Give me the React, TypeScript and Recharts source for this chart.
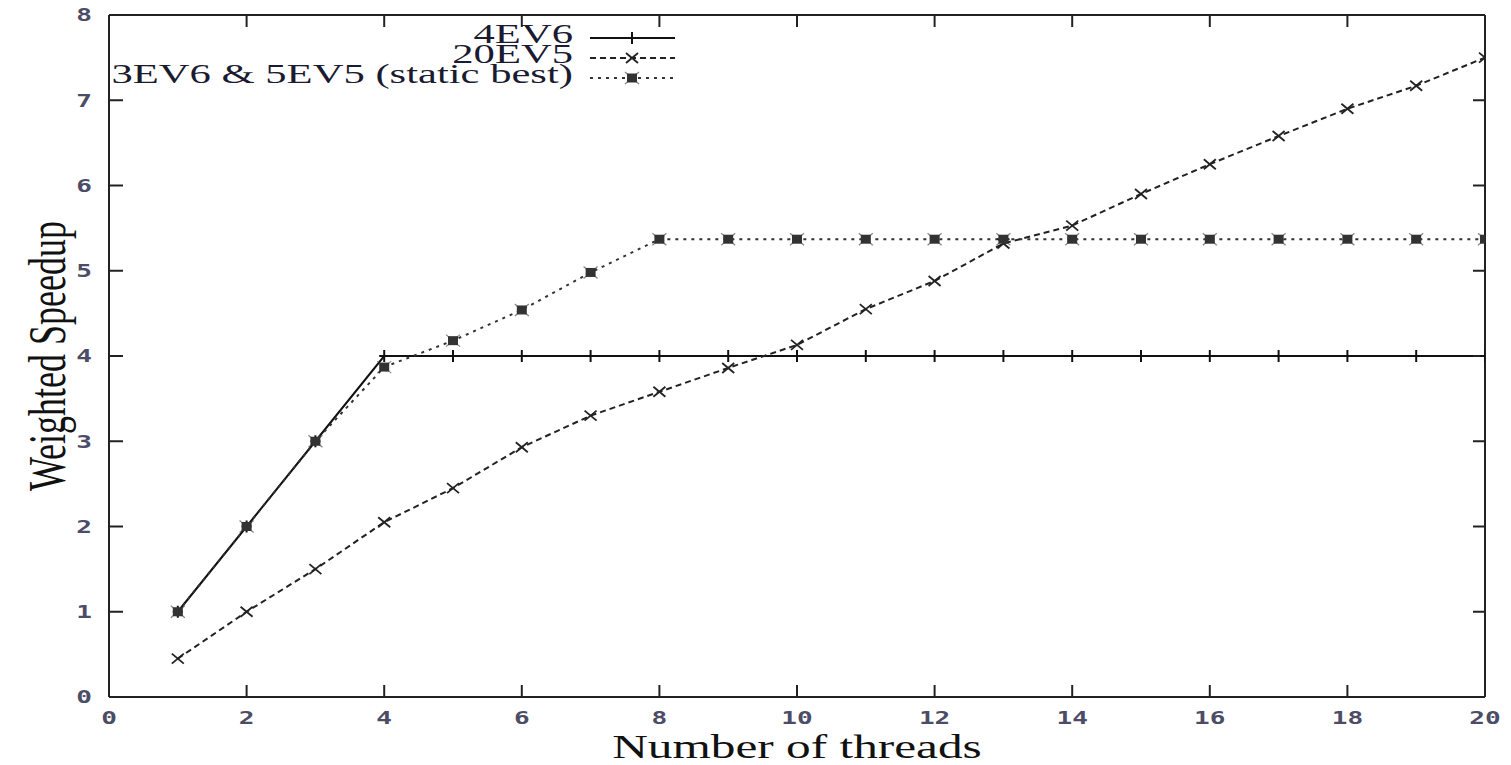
import { LineChart, Line, XAxis, YAxis, Label } from 'recharts';

const threads = [1, 2, 3, 4, 5, 6, 7, 8, 9, 10, 11, 12, 13, 14, 15, 16, 17, 18, 19, 20];
const ev6Speedup = [1, 2, 3, 4, 4, 4, 4, 4, 4, 4, 4, 4, 4, 4, 4, 4, 4, 4, 4, 4];
const ev5Speedup = [0.45, 1.0, 1.5, 2.05, 2.45, 2.93, 3.3, 3.58, 3.86, 4.13, 4.55, 4.88, 5.32, 5.53, 5.9, 6.25, 6.58, 6.9, 7.17, 7.5];
const staticBest = [1, 2, 3, 3.87, 4.18, 4.54, 4.98, 5.37, 5.37, 5.37, 5.37, 5.37, 5.37, 5.37, 5.37, 5.37, 5.37, 5.37, 5.37, 5.37];
const xTicks = [0, 2, 4, 6, 8, 10, 12, 14, 16, 18, 20];
const yTicks = [0, 1, 2, 3, 4, 5, 6, 7, 8];

const data = threads.map((t, i) => ({
  threads: t,
  ev6: ev6Speedup[i],
  ev5: ev5Speedup[i],
  mixed: staticBest[i],
}));

// the original image is stretched sideways, so text gets scaled in x
const SX = 1.45;
const SERIF = '"Liberation Serif", "Times New Roman", serif';
const MONO = '"DejaVu Sans Mono", monospace';
const TICK_COLOR = '#4c4c66';
const FRAME = { stroke: '#222', strokeWidth: 2 };

function PlusMark({ cx, cy, color }: { cx: number; cy: number; color: string }) {
  return (
    <g stroke={color} strokeWidth={2}>
      <line x1={cx - 5} x2={cx + 5} y1={cy} y2={cy} />
      <line x1={cx} x2={cx} y1={cy - 6} y2={cy + 6} />
    </g>
  );
}

function CrossMark({ cx, cy, color }: { cx: number; cy: number; color: string }) {
  return (
    <g stroke={color} strokeWidth={1.8}>
      <line x1={cx - 6} x2={cx + 6} y1={cy - 5} y2={cy + 5} />
      <line x1={cx - 6} x2={cx + 6} y1={cy + 5} y2={cy - 5} />
    </g>
  );
}

function BoxMark({ cx, cy, color }: { cx: number; cy: number; color: string }) {
  return (
    <g>
      <rect x={cx - 5} y={cy - 4.5} width={10} height={9} fill={color} />
      <g stroke={color} strokeWidth={1.2} opacity={0.6}>
        <line x1={cx - 7} x2={cx + 7} y1={cy - 6} y2={cy + 6} />
        <line x1={cx - 7} x2={cx + 7} y1={cy + 6} y2={cy - 6} />
      </g>
    </g>
  );
}

const series = [
  { key: 'ev6', name: '4EV6', color: '#111', dash: undefined, Mark: PlusMark },
  { key: 'ev5', name: '20EV5', color: '#222', dash: '6 4', Mark: CrossMark },
  { key: 'mixed', name: '3EV6 & 5EV5 (static best)', color: '#333', dash: '3 5', Mark: BoxMark },
];

const NoLabel = () => <g />;

function XTick(props: any) {
  const { x, y, payload } = props;
  return (
    <g transform={`translate(${x},${y}) scale(${SX},1)`}>
      <text x={0} y={0} dy="0.35em" textAnchor="middle" fontFamily={MONO} fontWeight="bold" fontSize={18} fill={TICK_COLOR}>
        {payload.value}
      </text>
    </g>
  );
}

function YTick(props: any) {
  const { x, y, payload } = props;
  return (
    <g transform={`translate(${x},${y}) scale(${SX},1)`}>
      <text x={0} y={0} dy="0.35em" textAnchor="end" fontFamily={MONO} fontWeight="bold" fontSize={18} fill={TICK_COLOR}>
        {payload.value}
      </text>
    </g>
  );
}

function XTitle(props: any) {
  const vb = props.viewBox;
  return (
    <g transform={`translate(${vb.x + vb.width / 2},${vb.y + 61}) scale(${SX},1)`}>
      <text x={0} y={0} textAnchor="middle" fontFamily={SERIF} fontSize={34} fill="#111">
        Number of threads
      </text>
    </g>
  );
}

function YTitle(props: any) {
  const vb = props.viewBox;
  return (
    <g transform={`translate(${vb.x + 47},${vb.y + vb.height / 2}) scale(${SX},1) rotate(-90)`}>
      <text x={0} y={0} dy="0.35em" textAnchor="middle" fontFamily={SERIF} fontSize={36} fill="#111">
        Weighted Speedup
      </text>
    </g>
  );
}

function KeyBox() {
  return (
    <svg width={1511} height={110} style={{ position: 'absolute', left: 0, top: 0, pointerEvents: 'none' }}>
      {series.map((s, i) => {
        const y = 38 + i * 20;
        return (
          <g key={s.key}>
            <g transform={`translate(573,${y + 5}) scale(1.55,1)`}>
              <text x={0} y={0} textAnchor="end" fontFamily={SERIF} fontSize={27.5} fill="#1a1a30">
                {s.name}
              </text>
            </g>
            <line x1={590} x2={675} y1={y} y2={y} stroke={s.color} strokeWidth={2} strokeDasharray={s.dash} />
            <s.Mark cx={632} cy={y} color={s.color} />
          </g>
        );
      })}
    </svg>
  );
}

export default function App() {
  return (
    <div style={{ position: 'absolute', left: 0, top: 0, width: 1511, height: 765, background: '#fff' }}>
      <LineChart width={1511} height={765} data={data} margin={{ top: 15, right: 26, bottom: 0, left: 0 }}>
        <XAxis
          xAxisId="x"
          dataKey="threads"
          type="number"
          domain={[0, 20]}
          allowDataOverflow
          ticks={xTicks}
          interval={0}
          height={68}
          tickSize={0}
          tickLine={false}
          tickMargin={21}
          axisLine={FRAME}
          tick={XTick}
        >
          <Label content={XTitle} />
        </XAxis>
        <XAxis xAxisId="xb" dataKey="threads" type="number" domain={[0, 20]} allowDataOverflow ticks={xTicks} interval={0}
          orientation="bottom" mirror tickSize={12} tickLine={FRAME} axisLine={false} tick={NoLabel} />
        <XAxis xAxisId="xt" dataKey="threads" type="number" domain={[0, 20]} allowDataOverflow ticks={xTicks} interval={0}
          orientation="top" mirror tickSize={12} tickLine={FRAME} axisLine={FRAME} tick={NoLabel} />
        <YAxis
          yAxisId="y"
          type="number"
          domain={[0, 8]}
          allowDataOverflow
          ticks={yTicks}
          interval={0}
          width={109}
          tickSize={0}
          tickLine={false}
          tickMargin={17}
          axisLine={FRAME}
          tick={YTick}
        >
          <Label content={YTitle} />
        </YAxis>
        <YAxis yAxisId="yl" type="number" domain={[0, 8]} allowDataOverflow ticks={yTicks} interval={0} orientation="left" mirror
          tickSize={14} tickLine={FRAME} axisLine={false} tick={NoLabel} />
        <YAxis yAxisId="yr" type="number" domain={[0, 8]} allowDataOverflow ticks={yTicks} interval={0} orientation="right" mirror
          tickSize={12} tickLine={FRAME} axisLine={FRAME} tick={NoLabel} />
        {series.map((s) => (
          <Line
            key={s.key}
            xAxisId="x"
            yAxisId="y"
            dataKey={s.key}
            name={s.name}
            type="linear"
            stroke={s.color}
            strokeWidth={2}
            strokeDasharray={s.dash}
            dot={(p: any) => <s.Mark key={`${s.key}-${p.index}`} cx={p.cx} cy={p.cy} color={s.color} />}
            activeDot={false}
            isAnimationActive={false}
          />
        ))}
      </LineChart>
      <KeyBox />
    </div>
  );
}
